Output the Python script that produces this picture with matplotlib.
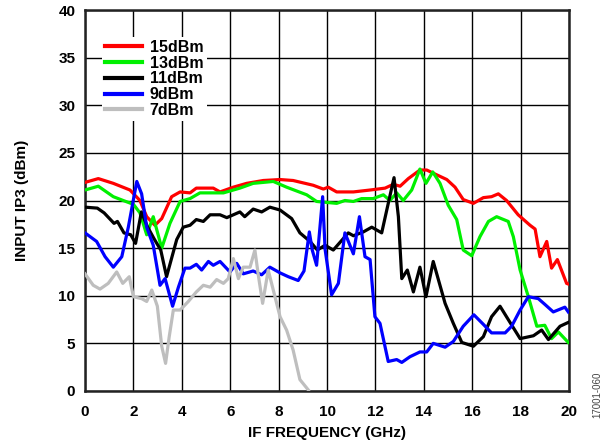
import matplotlib
matplotlib.use("Agg")
import matplotlib.pyplot as plt

plt.rcParams['font.family'] = ['Liberation Sans', 'DejaVu Sans']

# 15 dBm (red)
x15 = [0, 0.55, 1.17, 1.86, 2.27, 2.55, 2.89, 3.17, 3.58, 3.93, 4.34, 4.6, 5.3, 5.58, 6.13, 6.68,
       7.37, 8.06, 8.6, 9.43, 9.85, 10.05, 10.4, 11.09, 11.78, 12.4, 12.74, 13.02, 13.36, 13.84,
       14.12, 14.53, 14.95, 15.29, 15.63, 16.05, 16.46, 16.8, 17.08, 17.42, 17.9, 18.39, 18.6,
       18.8, 19.08, 19.28, 19.52, 19.9, 20.0]
y15 = [21.9, 22.3, 21.8, 21.1, 20.0, 18.3, 17.4, 18.1, 20.4, 20.9, 20.8, 21.3, 21.3, 20.9, 21.4, 21.8,
       22.1, 22.2, 22.1, 21.6, 21.2, 21.4, 20.9, 20.9, 21.1, 21.3, 21.7, 21.5, 22.3, 23.2,
       23.2, 22.7, 22.2, 21.4, 20.1, 19.7, 20.3, 20.4, 20.7, 20.0, 18.5, 17.4, 17.0,
       14.1, 15.7, 12.9, 13.8, 11.3, 11.2]

# 13 dBm (green)
x13 = [0, 0.55, 1.17, 1.58, 2.0, 2.27, 2.55, 2.82, 3.17, 3.51, 3.93, 4.34, 4.75, 5.72, 6.4, 6.95,
       7.78, 8.33, 9.16, 9.57, 10.4, 10.74, 11.09, 11.43, 11.91, 12.33, 12.6, 12.88, 13.15, 13.5,
       13.84, 14.09, 14.37, 14.67, 15.01, 15.36, 15.63, 15.98, 16.32, 16.67, 17.01, 17.49, 17.7,
       17.98, 18.32, 18.67, 19.0, 19.28, 19.56, 19.97]
y13 = [21.1, 21.5, 20.4, 20.0, 19.6, 18.7, 16.4, 18.3, 15.0, 17.6, 19.9, 20.2, 20.8, 20.8, 21.3, 21.8,
       22.0, 21.4, 20.6, 19.9, 19.7, 20.0, 19.9, 20.2, 20.2, 20.6, 20.0, 20.8, 20.0, 21.1,
       23.3, 21.8, 23.0, 21.8, 19.5, 18.0, 14.8, 14.2, 16.2, 17.8, 18.3, 17.8, 16.2,
       12.7, 9.9, 6.8, 6.9, 5.5, 6.2, 5.1]

# 11 dBm (black)
x11 = [0, 0.51, 0.79, 1.2, 1.34, 1.61, 1.89, 2.09, 2.33, 2.57, 2.85, 3.13, 3.37, 3.79, 4.06, 4.34,
       4.6, 4.89, 5.17, 5.58, 5.86, 6.4, 6.6, 6.95, 7.3, 7.64, 8.06, 8.54, 8.88, 9.3, 9.6, 9.92,
       10.26, 10.88, 11.09, 11.5, 11.85, 12.26, 12.47, 12.77, 12.95, 13.09, 13.32, 13.57, 13.84,
       14.09, 14.39, 14.88, 15.22, 15.57, 16.05, 16.46, 16.8, 17.15, 17.49, 17.98, 18.53, 18.87,
       19.15, 19.63, 19.97]
y11 = [19.3, 19.2, 18.7, 17.6, 17.8, 16.6, 16.4, 15.5, 18.8, 17.3, 16.0, 14.8, 12.0, 15.9, 17.2, 17.4,
       18.0, 17.8, 18.5, 18.5, 18.2, 18.8, 18.3, 19.1, 18.8, 19.3, 19.0, 18.1, 16.6, 15.7, 14.8, 15.3,
       14.8, 16.6, 16.3, 16.7, 17.2, 16.6, 19.0, 22.4, 18.3, 11.8, 12.7, 10.4, 13.0,
       9.9, 13.6, 9.2, 7.1, 5.1, 4.7, 5.7, 7.8, 8.9, 7.5, 5.5, 5.8, 6.4,
       5.4, 6.8, 7.2]

# 9 dBm (blue)
x9 = [0, 0.48, 0.83, 1.17, 1.52, 1.79, 2.14, 2.34, 2.55, 2.82, 3.1, 3.31, 3.62, 3.86, 4.13, 4.34,
      4.6, 4.82, 5.1, 5.3, 5.58, 5.99, 6.27, 6.54, 6.95, 7.3, 7.64, 8.06, 8.4, 8.81, 9.05, 9.27,
      9.39, 9.57, 9.82, 9.92, 10.19, 10.47, 10.74, 11.09, 11.34, 11.57, 11.78, 11.98, 12.19, 12.53,
      12.88, 13.09, 13.43, 13.84, 14.12, 14.39, 14.88, 15.22, 15.63, 16.07, 16.46, 16.8, 17.36,
      17.63, 17.98, 18.32, 18.73, 19.0, 19.35, 19.83, 19.97]
y9 = [16.6, 15.7, 14.1, 13.0, 14.1, 17.2, 22.0, 20.7, 17.2, 15.3, 11.1, 11.8, 8.9, 10.9, 12.9, 12.9,
      13.3, 12.7, 13.6, 13.2, 13.6, 12.5, 13.4, 12.3, 12.6, 12.2, 13.0, 12.4, 12.0, 11.6, 12.6, 16.7,
      14.8, 13.2, 20.4, 14.9, 10.1, 11.3, 16.6, 14.4, 18.3, 14.1, 13.8, 7.8, 7.1, 3.1,
      3.3, 3.0, 3.6, 4.1, 4.1, 5.0, 4.6, 5.2, 6.8, 8.0, 7.0, 6.1, 6.1,
      6.8, 8.5, 9.9, 9.7, 9.1, 8.3, 8.8, 8.3]

# 7 dBm (gray)
x7 = [0, 0.34, 0.62, 0.96, 1.31, 1.56, 1.83, 2.0, 2.34, 2.55, 2.76, 2.99, 3.17, 3.33, 3.48, 3.65,
      3.93, 4.27, 4.6, 4.89, 5.17, 5.44, 5.72, 5.92, 6.13, 6.34, 6.54, 6.82, 7.02, 7.16, 7.34,
      7.57, 7.78, 8.06, 8.33, 8.6, 8.88, 9.23]
y7 = [12.3, 11.1, 10.7, 11.3, 12.5, 11.3, 12.0, 9.9, 9.7, 9.4, 10.6, 8.9, 4.7, 2.9, 5.7, 8.5,
      8.5, 9.4, 10.4, 11.1, 10.9, 11.7, 11.3, 11.8, 13.9, 11.8, 13.0, 13.0, 14.8, 12.2, 9.2,
      12.7, 10.6, 7.8, 6.4, 4.3, 1.2, 0.1]

series = [
    ("15dBm", x15, y15, "#ff0000"),
    ("13dBm", x13, y13, "#00f000"),
    ("11dBm", x11, y11, "#000000"),
    ("9dBm", x9, y9, "#0000ff"),
    ("7dBm", x7, y7, "#bebebe"),
]

xticks = [0, 2, 4, 6, 8, 10, 12, 14, 16, 18, 20]
yticks = [0, 5, 10, 15, 20, 25, 30, 35, 40]

fig = plt.figure(figsize=(6.1, 4.45), dpi=100)
ax = fig.add_axes([85 / 610, 1 - 391 / 445, 484 / 610, 381 / 445])

for label, xs, ys, c in series:
    ax.plot(xs, ys, color=c, lw=2.3, label=label, solid_joinstyle='round', zorder=3)

ax.set_xlim(0, 20)
ax.set_ylim(0, 40)
ax.set_xticks(xticks)
ax.set_yticks(yticks)
ax.grid(True, color='black', lw=1.0, zorder=0)
ax.set_axisbelow(True)
for sp in ax.spines.values():
    sp.set_linewidth(1.8)
    sp.set_color('#222222')
ax.tick_params(axis='x', length=0, pad=10, labelsize=11)
ax.tick_params(axis='y', length=0, pad=7, labelsize=11)
for t in ax.get_xticklabels() + ax.get_yticklabels():
    t.set_fontweight('bold')

ax.set_xlabel("IF FREQUENCY (GHz)", fontsize=11, fontweight='bold', labelpad=5)
ax.set_ylabel("INPUT IP3 (dBm)", fontsize=11, fontweight='bold', labelpad=21)

leg = ax.legend(loc='upper left', bbox_to_anchor=(0.035, 0.93), frameon=True,
                prop={'weight': 'bold', 'size': 11.5},
                handlelength=2.3, handletextpad=0.5, labelspacing=0.05,
                borderpad=0.2, borderaxespad=0.0, fancybox=False)
leg.get_frame().set_edgecolor('none')
leg.get_frame().set_facecolor('white')
leg.get_frame().set_alpha(1.0)
for h in leg.get_lines():
    h.set_linewidth(3)
leg.set_zorder(5)

fig.text(597 / 610, 1 - 395 / 445, "17001-060", rotation=90, fontsize=7,
         color='#444444', ha='center', va='center')

fig.savefig("out.png", dpi=100)
